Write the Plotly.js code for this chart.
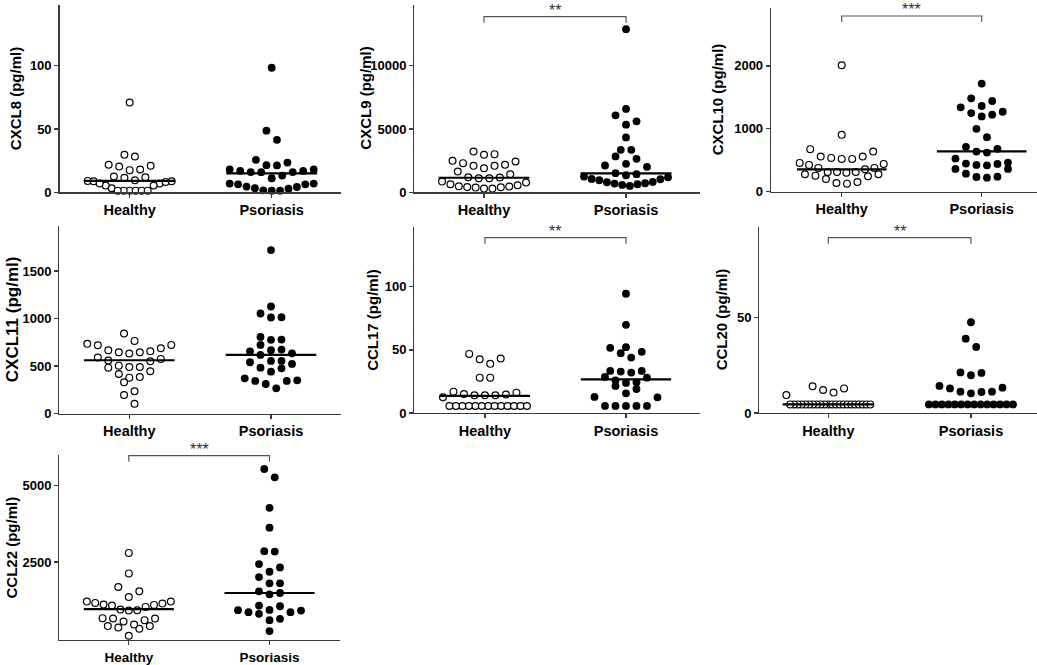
<!DOCTYPE html>
<html>
<head>
<meta charset="utf-8">
<script src="https://cdn.plot.ly/plotly-3.0.1.min.js"></script>
<style>html,body{margin:0;padding:0;background:#fff;}#chart{width:1037px;height:665px;}</style>
</head>
<body>
<div id="chart"></div>
<script>
// ---------------- DATA ----------------
const categories = ['Healthy', 'Psoriasis'];

const cxcl8Healthy = [70.9, 29.6, 28.3, 21.7, 20.4, 21, 17.5, 18, 11.9, 11.4, 12.4, 9, 9.5, 8.7, 6.9, 5.3, 3.2, 1.3, 1.3, 1.3, 1.3, 1.3, 1.3, 5.3, 6.9, 8.2, 8.7];
const cxcl8Psoriasis = [98.4, 48.7, 41.5, 25.7, 23.5, 21.2, 21.4, 18, 16.9, 15.9, 13.2, 11.1, 16, 16, 17, 18, 6.9, 6.3, 4.5, 3.2, 1.6, 1.3, 1.3, 2.9, 4.2, 6.3, 6.9];
const cxcl8Median = [9, 15];
const cxcl8Ticks = [0, 50, 100];

const cxcl9Healthy = [3228, 3016, 2963, 2487, 2434, 2302, 2170, 2090, 2090, 1905, 1640, 1429, 1164, 1190, 1111, 1111, 767, 635, 476, 423, 370, 291, 291, 397, 450, 556, 847];
const cxcl9Psoriasis = [12886, 6589, 6086, 5610, 5345, 4339, 3360, 3360, 2831, 2646, 2117, 2011, 2249, 1508, 1429, 1244, 1058, 953, 794, 688, 582, 503, 635, 714, 820, 1032, 1190, 1349];
const cxcl9Median = [1150, 1500];
const cxcl9Ticks = [0, 5000, 10000];

const cxcl10Healthy = [2011, 904, 676, 638, 559, 537, 521, 521, 559, 442, 458, 426, 378, 378, 356, 314, 314, 314, 303, 277, 277, 255, 245, 202, 154, 128, 138];
const cxcl10Psoriasis = [1718, 1484, 1442, 1341, 1362, 1250, 1197, 1224, 1271, 1000, 867, 681, 713, 622, 638, 527, 447, 426, 420, 442, 463, 362, 362, 239, 223, 234, 287];
const cxcl10Median = [356, 640];
const cxcl10Ticks = [0, 1000, 2000];

const cxcl11Healthy = [842, 765, 734, 723, 720, 688, 667, 646, 632, 646, 656, 590, 558, 576, 551, 505, 491, 484, 491, 446, 418, 379, 386, 330, 235, 197, 105];
const cxcl11Psoriasis = [1720, 1127, 1053, 1011, 1014, 807, 779, 776, 723, 674, 656, 618, 635, 667, 555, 523, 555, 541, 477, 442, 484, 351, 344, 312, 344, 372, 267];
const cxcl11Median = [562, 618];
const cxcl11Ticks = [0, 500, 1000, 1500];

const ccl17Healthy = [46.8, 42.6, 38.9, 43.1, 28, 28, 16.9, 16.1, 15.1, 14.6, 14, 12.4, 14, 14, 5.6, 5.6, 5.6, 5.6, 5.6, 5.6, 5.6, 5.6, 5.6, 5.6, 5.6, 5.6, 5.6];
const ccl17Psoriasis = [94.4, 69.8, 51.6, 52.1, 47.4, 48.4, 43.9, 33.3, 33.3, 32.8, 32, 28.6, 28, 25.9, 23.8, 24.3, 21.4, 19, 15.6, 12.7, 12.4, 5.6, 5.6, 5.6, 5.6, 5.6];
const ccl17Median = [13.5, 26.7];
const ccl17Ticks = [0, 50, 100];

const ccl20Healthy = [9.4, 14, 12.1, 10.7, 12.9, 4.5, 4.5, 4.5, 4.5, 4.5, 4.5, 4.5, 4.5, 4.5, 4.5, 4.5, 4.5, 4.5, 4.5, 4.5, 4.5, 4.5, 4.5, 4.5, 4.5, 4.5, 4.5];
const ccl20Psoriasis = [47.6, 39, 34.6, 21.3, 21, 19.8, 14.2, 12.9, 11.2, 11, 11.2, 13.3, 10.3, 4.5, 4.5, 4.5, 4.5, 4.5, 4.5, 4.5, 4.5, 4.5, 4.5, 4.5, 4.5, 4.5, 4.5];
const ccl20Median = [4.5, 4.5];
const ccl20Ticks = [0, 50];

const ccl22Healthy = [2802, 2132, 1688, 1547, 1363, 1212, 1147, 1104, 1039, 931, 920, 952, 1082, 1114, 1169, 1212, 660, 606, 563, 671, 660, 411, 368, 325, 411, 465, 97];
const ccl22Psoriasis = [5540, 5269, 4274, 3625, 2846, 2857, 2326, 2435, 2186, 2013, 1807, 1807, 1493, 1450, 1547, 1060, 1082, 941, 920, 866, 811, 866, 931, 649, 606, 249];
const ccl22Median = [963, 1493];
const ccl22Ticks = [2500, 5000];

const panelTitles = ['CXCL8 (pg/ml)', 'CXCL9 (pg/ml)', 'CXCL10 (pg/ml)', 'CXCL11 (pg/ml)', 'CCL17 (pg/ml)', 'CCL20 (pg/ml)', 'CCL22 (pg/ml)'];
const significance = ['', '**', '***', '', '**', '**', '***'];

// ---------------- LAYOUT GEOMETRY (pixels) ----------------
const W = 1037, H = 665;
const FONT = 'Liberation Sans, Arial, Helvetica, sans-serif';
const AX = '#3a3a3a';
const boxes = [
  {x0: 59.5, x1: 341, y0: 5, y1: 192.3, xr: [-0.494, 1.488], yr: [0, 148], tx: 15.5, ts: 15, br: null, cs: 14.5},
  {x0: 414.3, x1: 700, y0: 5, y1: 192.3, xr: [-0.491, 1.521], yr: [0, 14800], tx: 366, ts: 15, br: 16.7, cs: 14.5},
  {x0: 771, x1: 1037, y0: 8, y1: 191.7, xr: [-0.505, 1.395], yr: [0, 2920], tx: 717.5, ts: 15, br: 16, cs: 14.5},
  {x0: 59.3, x1: 341, y0: 225.7, y1: 413.7, xr: [-0.494, 1.494], yr: [0, 1976], tx: 12.5, ts: 17, br: null, cs: 14.5},
  {x0: 414.3, x1: 700, y0: 226.7, y1: 413, xr: [-0.501, 1.525], yr: [0, 147.5], tx: 373, ts: 15, br: 237.7, cs: 14.5},
  {x0: 759.3, x1: 1037, y0: 226.7, y1: 413, xr: [-0.484, 1.463], yr: [0, 97.7], tx: 721.5, ts: 15, br: 237.7, cs: 14.5},
  {x0: 59.3, x1: 340, y0: 455, y1: 640, xr: [-0.494, 1.501], yr: [-42, 5997], tx: 11, ts: 15, br: 455.7, cs: 13.5}
];

const panels = [
  [cxcl8Healthy, cxcl8Psoriasis, cxcl8Median, cxcl8Ticks],
  [cxcl9Healthy, cxcl9Psoriasis, cxcl9Median, cxcl9Ticks],
  [cxcl10Healthy, cxcl10Psoriasis, cxcl10Median, cxcl10Ticks],
  [cxcl11Healthy, cxcl11Psoriasis, cxcl11Median, cxcl11Ticks],
  [ccl17Healthy, ccl17Psoriasis, ccl17Median, ccl17Ticks],
  [ccl20Healthy, ccl20Psoriasis, ccl20Median, ccl20Ticks],
  [ccl22Healthy, ccl22Psoriasis, ccl22Median, ccl22Ticks]
];

// Prism-like scatter-dot layout: bin values by pixel height, spread each bin horizontally
function swarmOffsets(values, pxPerUnit, pxPerCat) {
  const BIN = 10, MAXW = 84, MAXS = 10.5;
  const sorted = values.map((v, i) => ({v, i})).sort((a, b) => a.v - b.v);
  const bins = [];
  let cur = null;
  for (const p of sorted) {
    if (!cur || (p.v - cur.start) * pxPerUnit >= BIN) { cur = {start: p.v, pts: []}; bins.push(cur); }
    cur.pts.push(p);
  }
  const off = new Array(values.length).fill(0);
  for (const b of bins) {
    const n = b.pts.length;
    const s = n > 1 ? Math.min(MAXS, MAXW / (n - 1)) : 0;
    const slots = [];
    if (n % 2 === 1) { slots.push(0); for (let k = 1; slots.length < n; k++) { slots.push(k); if (slots.length < n) slots.push(-k); } }
    else { for (let k = 0; slots.length < n; k++) { slots.push(k + 0.5); slots.push(-(k + 0.5)); } }
    b.pts.forEach((p, j) => { off[p.i] = slots[j] * s / pxPerCat; });
  }
  return off;
}

const traces = [];
const layout = {
  width: W, height: H, margin: {l: 0, r: 0, t: 0, b: 0},
  paper_bgcolor: '#fff', plot_bgcolor: 'rgba(0,0,0,0)', showlegend: false,
  annotations: [], shapes: []
};

panels.forEach((pd, k) => {
  const b = boxes[k];
  const n = k + 1;
  const xa = n === 1 ? 'x' : 'x' + n;
  const ya = n === 1 ? 'y' : 'y' + n;
  const xkey = n === 1 ? 'xaxis' : 'xaxis' + n;
  const ykey = n === 1 ? 'yaxis' : 'yaxis' + n;
  const pxPerUnit = (b.y1 - b.y0) / (b.yr[1] - b.yr[0]);
  const pxPerCat = (b.x1 - b.x0) / (b.xr[1] - b.xr[0]);

  layout[xkey] = {
    domain: [b.x0 / W, b.x1 / W], range: b.xr, anchor: ya,
    tickvals: [0, 1], ticktext: categories.map(c => '<b>' + c + '</b>'),
    ticks: 'outside', ticklen: 4, tickwidth: 1.3, tickcolor: AX,
    showline: true, linecolor: AX, linewidth: 1.3,
    showgrid: false, zeroline: false, fixedrange: true,
    tickfont: {family: FONT, size: b.cs, color: '#000'}
  };
  layout[ykey] = {
    domain: [1 - b.y1 / H, 1 - b.y0 / H], range: b.yr, anchor: xa,
    tickvals: pd[3], ticktext: pd[3].map(v => '<b>' + v + '</b>'),
    ticks: 'outside', ticklen: 4, tickwidth: 1.3, tickcolor: AX,
    showline: true, linecolor: AX, linewidth: 1.3,
    showgrid: false, zeroline: false, fixedrange: true,
    tickfont: {family: FONT, size: 13, color: '#000'}
  };

  [pd[0], pd[1]].forEach((vals, g) => {
    const off = swarmOffsets(vals, pxPerUnit, pxPerCat);
    traces.push({
      type: 'scatter', mode: 'markers', xaxis: xa, yaxis: ya, cliponaxis: false, hoverinfo: 'skip',
      x: vals.map((v, i) => g + off[i]), y: vals,
      marker: g === 0
        ? {symbol: 'circle', size: 6.8, color: '#fff', line: {color: '#000', width: 1.2}}
        : {symbol: 'circle', size: 7.8, color: '#000', line: {width: 0}}
    });
  });
  pd[2].forEach((m, g) => {
    traces.push({
      type: 'scatter', mode: 'lines', xaxis: xa, yaxis: ya, cliponaxis: false, hoverinfo: 'skip',
      x: [g - 0.32, g + 0.32], y: [m, m], line: {color: '#000', width: 2.2}
    });
  });

  layout.annotations.push({
    xref: 'paper', yref: 'paper', x: b.tx / W, y: 1 - ((b.y0 + b.y1) / 2) / H,
    xanchor: 'center', yanchor: 'middle', textangle: -90, showarrow: false,
    text: '<b>' + panelTitles[k] + '</b>', font: {family: FONT, size: b.ts, color: '#000'}
  });

  if (significance[k] && b.br !== null) {
    const yt = 1 - b.br / H, ye = 1 - (b.br + 6) / H;
    layout.shapes.push({
      type: 'path', xref: xa, yref: 'paper',
      path: `M 0,${ye} L 0,${yt} L 1,${yt} L 1,${ye}`,
      line: {color: '#555', width: 1.2}
    });
    layout.annotations.push({
      xref: xa, yref: 'paper', x: 0.5, y: yt, xanchor: 'center', yanchor: 'bottom', yshift: -4,
      showarrow: false, text: significance[k], font: {family: FONT, size: 16, color: '#333'}
    });
  }
});

Plotly.newPlot('chart', traces, layout, {staticPlot: true, displayModeBar: false});
</script>
</body>
</html>
